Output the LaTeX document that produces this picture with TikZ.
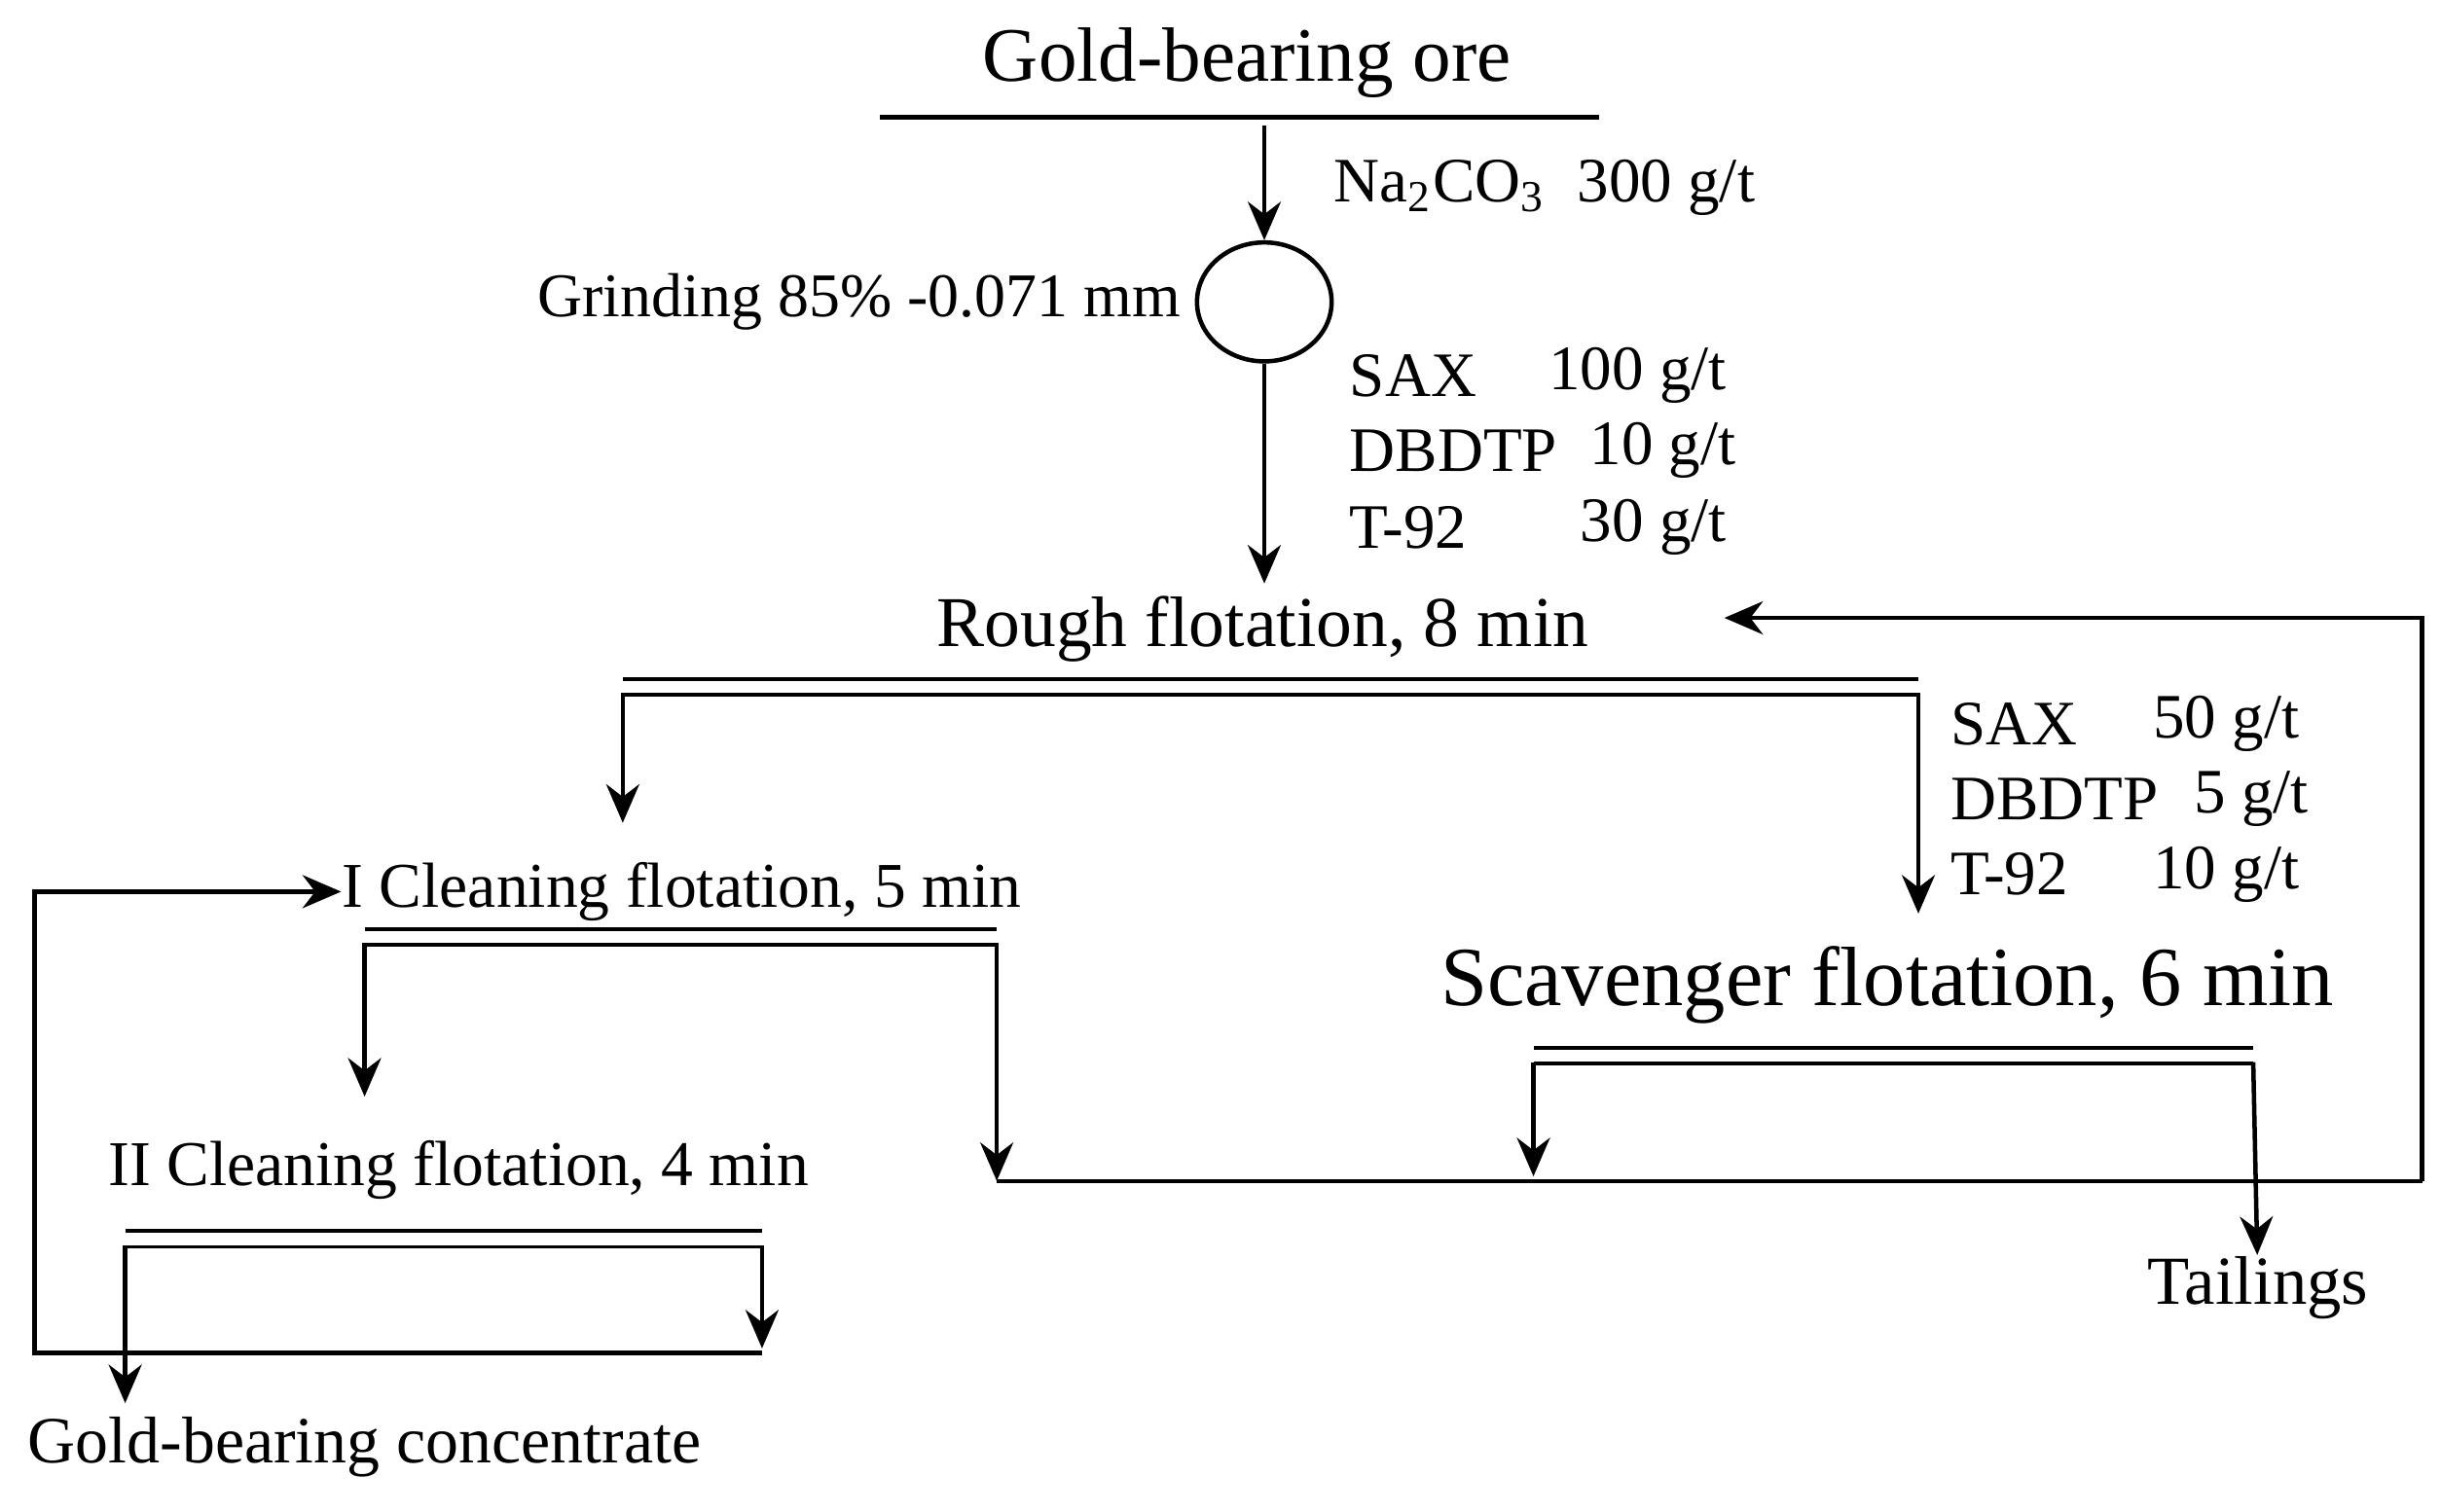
\documentclass[tikz,border=0pt]{standalone}
\usepackage{fontspec}
\setmainfont{Liberation Serif}
\usetikzlibrary{arrows.meta,positioning,shapes.geometric}
\tikzstyle{label} = [inner sep=0pt, font=\fontsize{12}{14}\selectfont]
\tikzstyle{reag} = [inner sep=0pt, anchor=west, font=\fontsize{11.5}{13}\selectfont]
\tikzstyle{line} = [draw, line width=0.8pt]
\tikzstyle{arrow} = [line, -{Stealth[length=7pt,width=6pt]}]
\tikzstyle{split} = [draw, double, double distance=2.2pt, line width=0.7pt]

\begin{document}
\begin{tikzpicture}[x=0.01cm, y=-0.01cm]
        \useasboundingbox (0,0) rectangle (1560,966);
        % Place nodes
        \node [label, font=\fontsize{14}{16}\selectfont] (ore) at (797,40) {Gold-bearing ore};
        \node [draw, ellipse, minimum width=0.86cm, minimum height=0.76cm, inner sep=0pt,
            line width=0.8pt] (mill) at (808,193) {};
        \node [label, font=\fontsize{11.3}{13}\selectfont, anchor=east] (grind) at (755,193) {Grinding 85\% -0.071 mm};
        \node [reag] (soda) at (852,120) {Na\textsubscript{2}CO\textsubscript{3}\ \ 300 g/t};
        \node [reag] (saxA) at (862,240) {SAX};
        \node [reag] (dbA) at (862,288) {DBDTP};
        \node [reag] (tA) at (862,337) {T-92};
        \node [reag, anchor=east] at (1104,240) {100 g/t};
        \node [reag, anchor=east] at (1110,288) {10 g/t};
        \node [reag, anchor=east] at (1104,337) {30 g/t};
        \node [label, font=\fontsize{13}{15}\selectfont] (rough) at (807,402) {Rough flotation, 8 min};
        \node [reag] (saxB) at (1246,463) {SAX};
        \node [reag] (dbB) at (1246,511) {DBDTP};
        \node [reag] (tB) at (1246,559) {T-92};
        \node [reag, anchor=east] at (1470,463) {50 g/t};
        \node [reag, anchor=east] at (1476,511) {5 g/t};
        \node [reag, anchor=east] at (1470,559) {10 g/t};
        \node [label, font=\fontsize{11.6}{13}\selectfont, anchor=west] (clean1) at (218,570) {I Cleaning flotation, 5 min};
        \node [label, font=\fontsize{15.3}{18}\selectfont] (scav) at (1206,630) {Scavenger flotation, 6 min};
        \node [label, font=\fontsize{11.6}{13}\selectfont] (clean2) at (293,748) {II Cleaning flotation, 4 min};
        \node [label, font=\fontsize{12.5}{15}\selectfont] (tail) at (1443,823) {Tailings};
        \node [label] (conc) at (233,925) {Gold-bearing concentrate};
        % Junctions
        \coordinate (midT) at (637,755);
        \coordinate (ret) at (1548,755);
        \coordinate (concIn) at (80,897);
        % Draw edges
        \path [line] (562,75) -- (1022,75);
        \path [arrow] (808,80) -- (mill);
        \path [arrow] (mill) -- (808,373);
        \path [split] (398,439) -- (1226,439);
        \path [arrow] (398,443) -- (398,526);
        \path [arrow] (1226,443) -- (1226,584);
        \path [split] (233,599) -- (637,599);
        \path [arrow] (233,603) -- (233,701);
        \path [arrow] (637,603) -- (midT);
        \path [split] (980,675) -- (1440,675);
        \path [arrow] (980,679) -- (980,752);
        \path [arrow] (1440,679) -- (tail);
        \path [line] (midT) -- (ret);
        \path [arrow] (ret) |- (1102,395);
        \path [split] (80,792) -- (487,792);
        \path [arrow] (80,796) -- (concIn);
        \path [arrow] (487,796) -- (487,862);
        \path [arrow] (487,865) -- (22,865) |- (clean1.west);
\end{tikzpicture}
\end{document}
